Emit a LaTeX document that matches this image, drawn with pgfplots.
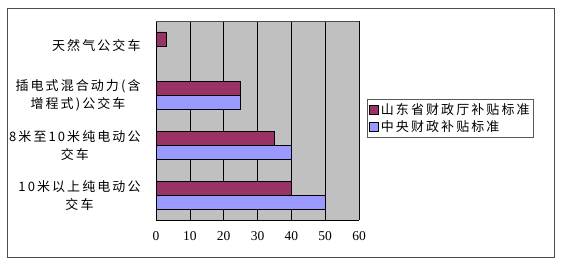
\documentclass[border=0pt]{standalone}
\usepackage{fontspec}
\setmainfont{Liberation Serif}
\newfontfamily\cjk[LetterSpace=16]{Noto Sans CJK SC}
\usepackage{pgfplots}
\pgfplotsset{compat=1.18}
\definecolor{sdred}{RGB}{153,51,102}
\definecolor{cnblue}{RGB}{153,153,255}
\definecolor{plotgray}{RGB}{192,192,192}
\begin{document}
\begin{tikzpicture}[x=1bp,y=1bp]
\path (0,0) rectangle (561,264);
\draw[gray!60!black, line width=0.8bp] (7,7) rectangle (554,256);
\begin{axis}[
  at={(156bp,44bp)}, anchor=south west,
  scale only axis, width=203bp, height=199bp,
  xbar, bar width=14bp,
  xmin=0, xmax=60, ymin=-0.5, ymax=3.5,
  xtick={0,10,...,60},
  /pgf/number format/assume math mode=true,
  xmajorgrids, grid style={black, line width=0.6bp},
  major x tick style={draw=none},
  ytick={0,1,2,3},
  yticklabels={{10米以上纯电动公\\交车},{8米至10米纯电动公\\交车},{插电式混合动力(含\\增程式)公交车},{天然气公交车}},
  major y tick style={draw=none},
  extra y ticks={0.5,1.5,2.5},
  extra y tick labels={},
  extra y tick style={tick align=inside, major tick length=5bp, major tick style={draw=black, line width=0.6bp}, ytick pos=left},
  axis background/.style={fill=plotgray},
  axis x line*=bottom, axis y line*=left,
  axis line style={black, line width=0.8bp},
  yticklabel style={font=\cjk\fontsize{13bp}{18bp}\selectfont, align=center, anchor=east, inner sep=0pt, xshift=-11bp},
  xticklabel style={font=\fontsize{13.5bp}{15bp}\selectfont, anchor=north, inner sep=0pt, yshift=-11bp},
  reverse legend,
  legend style={at={(1.04,0.608)}, anchor=north west, draw=gray!70!black, line width=0.6bp,
    font=\cjk\fontsize{13bp}{16bp}\selectfont, inner xsep=2bp, inner ysep=2bp, row sep=1bp,
    legend cell align=left},
  legend image code/.code={\draw[#1, draw=black, line width=0.5bp] (0bp,-4.5bp) rectangle (9bp,4.5bp);},
]
% central government subsidy standard
\addplot[fill=cnblue, draw=black, line width=0.5bp, bar shift=-7bp] coordinates {(50,0) (40,1) (25,2)};
% Shandong provincial finance department subsidy standard
\addplot[fill=sdred, draw=black, line width=0.5bp, bar shift=7bp] coordinates {(40,0) (35,1) (25,2) (3,3)};
\legend{中央财政补贴标准,山东省财政厅补贴标准}
\draw[gray!60!black, line width=0.8bp] (rel axis cs:0,1) -- (rel axis cs:1,1) -- (rel axis cs:1,0);
\end{axis}
\end{tikzpicture}
\end{document}
